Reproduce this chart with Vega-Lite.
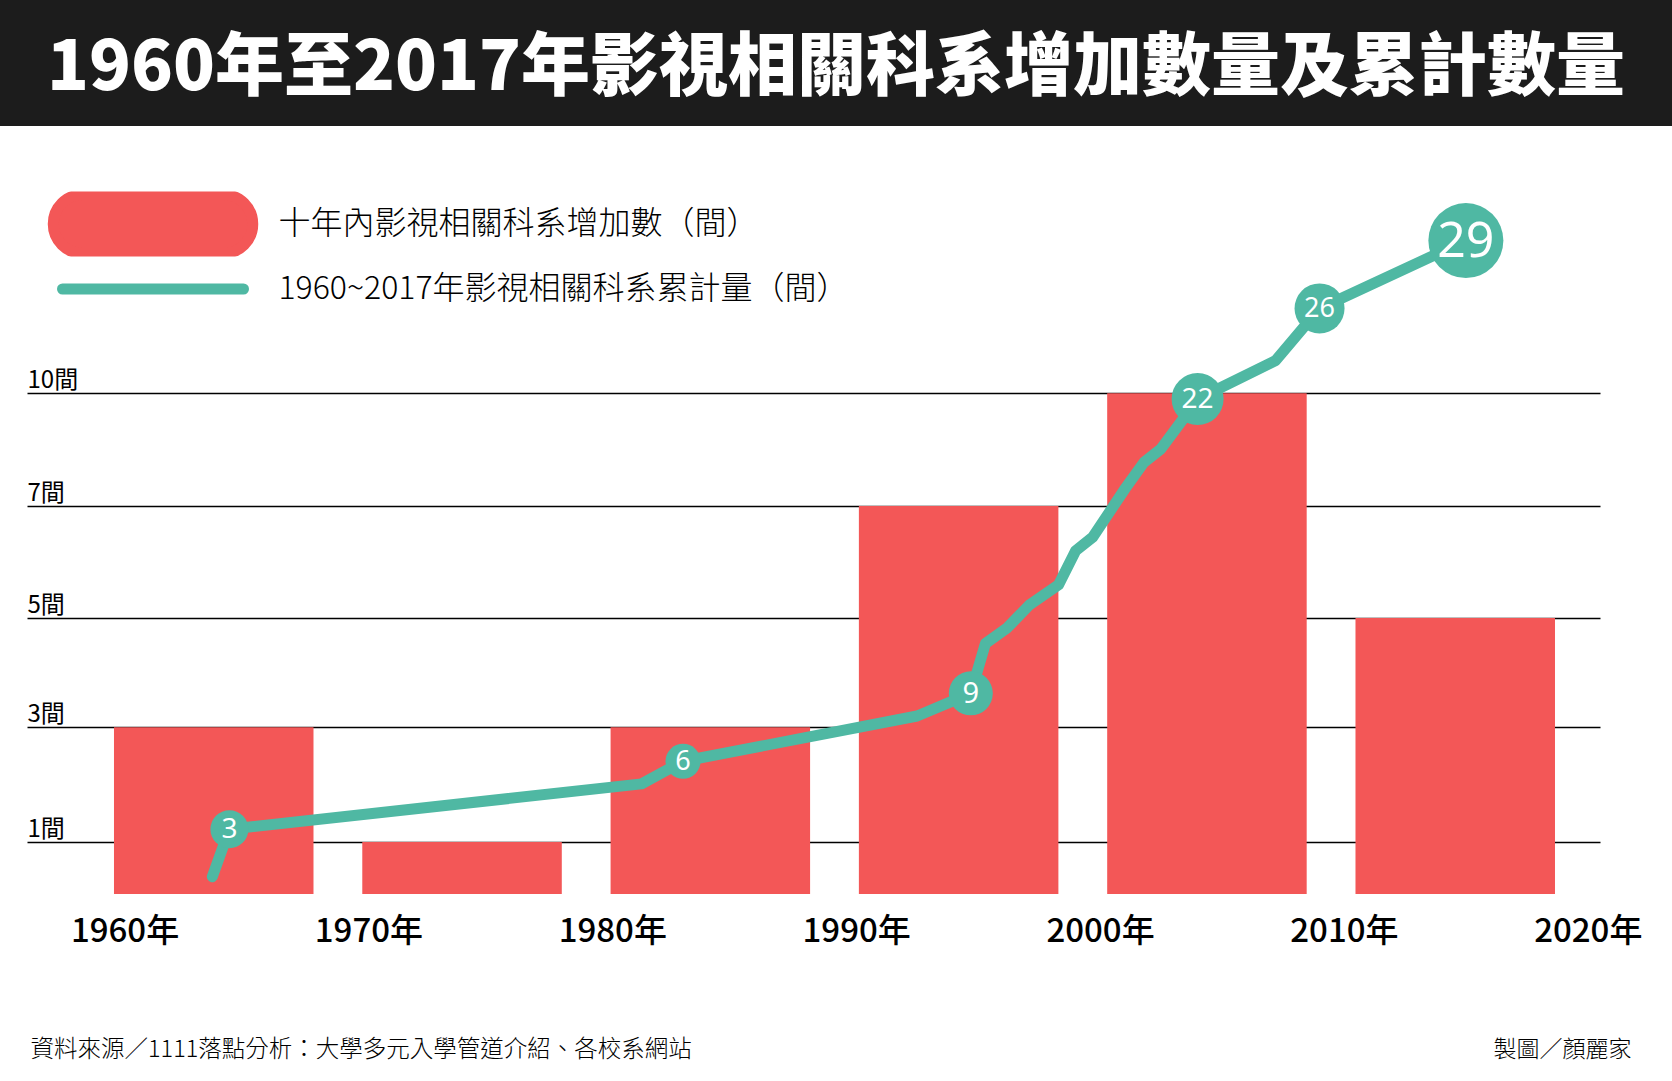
{
  "$schema": "https://vega.github.io/schema/vega-lite/v6.json",
  "background": "white",
  "padding": {"left": 0, "top": 0, "right": 0, "bottom": 18},
  "spacing": 0,
  "config": {
    "font": "Noto Sans CJK TC",
    "view": {"stroke": null},
    "axis": {"domain": false, "ticks": false, "tickSize": 0, "labelColor": "black", "titleColor": "black"}
  },
  "datasets": {
    "decades": [
      {"decade": "1960年代", "added": 3},
      {"decade": "1970年代", "added": 1},
      {"decade": "1980年代", "added": 3},
      {"decade": "1990年代", "added": 7},
      {"decade": "2000年代", "added": 10},
      {"decade": "2010年代", "added": 5}
    ],
    "cumulative": [
      {"year": 1963.6, "total": 0.9, "labeled": false},
      {"year": 1964.3, "total": 3, "labeled": true},
      {"year": 1981.2, "total": 5.0, "labeled": false},
      {"year": 1982.9, "total": 6, "labeled": true},
      {"year": 1992.5, "total": 8.0, "labeled": false},
      {"year": 1994.7, "total": 9, "labeled": true},
      {"year": 1995.3, "total": 11.2, "labeled": false},
      {"year": 1996.2, "total": 11.9, "labeled": false},
      {"year": 1997.1, "total": 12.9, "labeled": false},
      {"year": 1998.3, "total": 13.8, "labeled": false},
      {"year": 1999.0, "total": 15.3, "labeled": false},
      {"year": 1999.7, "total": 15.9, "labeled": false},
      {"year": 2001.0, "total": 18.0, "labeled": false},
      {"year": 2001.8, "total": 19.2, "labeled": false},
      {"year": 2002.5, "total": 19.8, "labeled": false},
      {"year": 2003.6, "total": 21.4, "labeled": false},
      {"year": 2004.0, "total": 22, "labeled": true},
      {"year": 2007.2, "total": 23.7, "labeled": false},
      {"year": 2009.0, "total": 26, "labeled": true},
      {"year": 2015.0, "total": 29, "labeled": true}
    ]
  },
  "resolve": {"scale": {"color": "independent"}, "legend": {"color": "independent"}},
  "vconcat": [
    {
      "width": 1672,
      "height": 126,
      "view": {"fill": "#1c1c1c", "stroke": null},
      "data": {"values": [{"heading": "1960年至2017年影視相關科系增加數量及累計數量"}]},
      "mark": {"type": "text", "color": "white", "fontSize": 69, "fontWeight": 900, "align": "center", "baseline": "middle", "dy": 6},
      "encoding": {"text": {"field": "heading"}}
    },
    {
      "width": 1672,
      "height": 768,
      "resolve": {"scale": {"x": "independent", "y": "independent"}},
      "layer": [
        {
          "data": {"name": "decades"},
          "mark": {"type": "bar"},
          "encoding": {
            "x": {
              "field": "decade", "type": "nominal", "sort": null, "axis": null,
              "scale": {"type": "band", "range": [27, 1600], "paddingInner": 0.1965, "paddingOuter": 0.2658, "align": 0.659}
            },
            "y": {
              "field": "added", "type": "quantitative",
              "scale": {"domain": [0, 1, 3, 5, 7, 10], "range": [768, 716, 601.3, 492, 380, 267.3], "nice": false, "zero": false},
              "axis": {
                "values": [1, 3, 5, 7, 10],
                "labelExpr": "datum.value + '間'",
                "grid": true, "gridColor": "black", "gridWidth": 1.4,
                "labelAlign": "left", "labelBaseline": "alphabetic", "labelPadding": -27, "labelOffset": -6,
                "labelFontSize": 24, "labelFontWeight": 400,
                "minExtent": 0, "maxExtent": 0,
                "title": "製圖／顏麗家",
                "titleAngle": 0, "titleX": 1631, "titleY": 923,
                "titleAlign": "right", "titleBaseline": "middle",
                "titleFontSize": 23, "titleFontWeight": 300
              }
            },
            "color": {
              "datum": "十年內影視相關科系增加數（間）",
              "type": "nominal",
              "scale": {
                "domain": ["十年內影視相關科系增加數（間）", "1960~2017年影視相關科系累計量（間）"],
                "range": ["#f35757", "#4fb8a3"]
              },
              "legend": {
                "orient": "none", "legendX": 42.5, "legendY": 65.5,
                "title": null, "padding": 0,
                "symbolSize": 44100, "symbolStrokeWidth": 0, "clipHeight": 65, "rowPadding": 0,
                "labelOffset": 15, "labelFontSize": 32, "labelFontWeight": 300,
                "labelColor": "black", "labelLimit": 1000,
                "encode": {
                  "symbols": {
                    "update": {
                      "shape": {"signal": "datum.value === '十年內影視相關科系增加數（間）' ? 'M-0.67,-0.28L0.67,-0.28C0.8246,-0.28,0.95,-0.1546,0.95,0C0.95,0.1546,0.8246,0.28,0.67,0.28L-0.67,0.28C-0.8246,0.28,-0.95,0.1546,-0.95,0C-0.95,-0.1546,-0.8246,-0.28,-0.67,-0.28Z' : 'M-0.862,0L0.862,0'"},
                      "fill": {"signal": "datum.value === '十年內影視相關科系增加數（間）' ? '#f35757' : 'transparent'"},
                      "stroke": {"signal": "datum.value === '十年內影視相關科系增加數（間）' ? 'transparent' : '#4fb8a3'"},
                      "strokeWidth": {"value": 11},
                      "strokeCap": {"value": "round"},
                      "size": {"value": 44100},
                      "opacity": {"value": 1}
                    }
                  }
                }
              }
            }
          }
        },
        {
          "data": {"name": "cumulative"},
          "resolve": {"scale": {"size": "independent"}},
          "encoding": {
            "x": {
              "field": "year", "type": "quantitative",
              "scale": {"domain": [1956, 2020.5], "range": [27, 1600], "nice": false, "zero": false}
            },
            "y": {
              "field": "total", "type": "quantitative",
              "scale": {"domain": [0, 30], "range": [771.1, 91.9], "nice": false, "zero": false},
              "axis": null
            }
          },
          "layer": [
            {
              "mark": {"type": "line", "strokeWidth": 11, "strokeCap": "round", "strokeJoin": "round"},
              "encoding": {
                "x": {
                  "field": "year", "type": "quantitative",
                  "axis": {
                    "values": [1960, 1970, 1980, 1990, 2000, 2010, 2020],
                    "labelExpr": "datum.value + '年'",
                    "grid": false,
                    "labelFontSize": 33, "labelFontWeight": 500,
                    "labelPadding": 47, "labelBaseline": "alphabetic",
                    "title": "資料來源／1111落點分析：大學多元入學管道介紹、各校系網站",
                    "titleX": 30, "titleY": 155,
                    "titleAlign": "left", "titleBaseline": "middle",
                    "titleFontSize": 23.5, "titleFontWeight": 300
                  }
                },
                "color": {"datum": "1960~2017年影視相關科系累計量（間）", "type": "nominal"}
              }
            },
            {
              "transform": [{"filter": "datum.labeled"}],
              "mark": {"type": "circle", "color": "#4fb8a3", "opacity": 1},
              "encoding": {
                "size": {
                  "field": "total", "type": "quantitative", "legend": null,
                  "scale": {"type": "linear", "domain": [3, 6, 9, 22, 26, 29], "range": [1444, 1225, 1936, 2704, 2500, 5625], "zero": false, "nice": false}
                }
              }
            },
            {
              "transform": [{"filter": "datum.labeled"}],
              "mark": {"type": "text", "color": "white", "align": "center", "baseline": "middle", "font": "Noto Sans", "fontWeight": 400, "dy": 1},
              "encoding": {
                "text": {"field": "total", "type": "quantitative"},
                "size": {
                  "field": "total", "type": "quantitative", "legend": null,
                  "scale": {"type": "linear", "domain": [3, 6, 9, 22, 26, 29], "range": [28, 27, 29, 28, 27, 50], "zero": false, "nice": false}
                }
              }
            }
          ]
        }
      ]
    }
  ]
}
